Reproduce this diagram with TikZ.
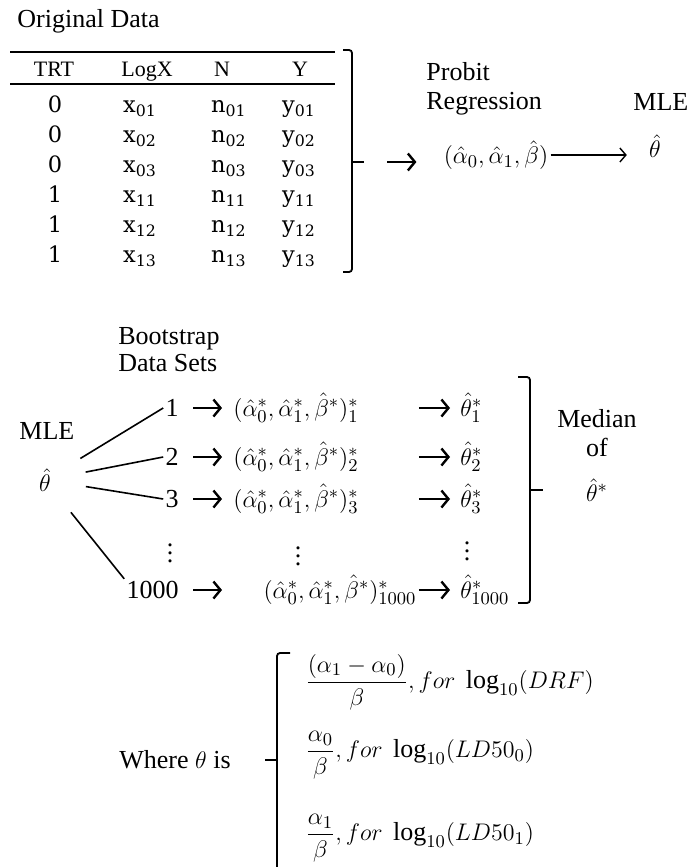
\documentclass[tikz,border=0pt]{standalone}
\usepackage{amsmath}
\usepackage{fontspec}
\setmainfont{Liberation Serif}
\newfontfamily\datafont{DejaVu Serif}
\usetikzlibrary{arrows.meta}

\tikzset{
  lbl/.style={font=\fontsize{13}{14.5}\selectfont, inner sep=1pt},
  tab/.style={font=\fontsize{11}{13}\selectfont, inner sep=1pt},
  dat/.style={font=\datafont\fontsize{11.25}{13}\selectfont, inner sep=1pt},
  arr/.style={line width=1.2pt, -{Straight Barb[length=3.5pt,width=8.5pt]}},
  larr/.style={line width=0.7pt, -{Straight Barb[length=3pt,width=7pt]}},
  brk/.style={line width=0.9pt, rounded corners=1.5pt},
  fan/.style={line width=0.8pt},
}

\begin{document}
\begin{tikzpicture}[x=0.5pt,y=-0.5pt]
\useasboundingbox (0,0) rectangle (687,867);

% original data table
\node[lbl,anchor=base west] (orig) at (15,27) {Original Data};
\draw[line width=1pt] (10,52) -- (335,52);
\draw[line width=1pt] (10,84) -- (335,84);
\foreach \cx/\hd in {54/TRT,147/LogX,222/N,300/Y}{\node[tab,anchor=base] (hd\hd) at (\cx,76) {\hd};}
\foreach \r/\trt/\ix in {0/0/01,1/0/02,2/0/03,3/1/11,4/1/12,5/1/13}{
  \node[dat,anchor=base] (trt\ix) at (55,112+30*\r) {\trt};
  \node[dat,anchor=base] (x\ix) at (140,112+30*\r) {x\textsubscript{\ix}};
  \node[dat,anchor=base] (n\ix) at (229,112+30*\r) {n\textsubscript{\ix}};
  \node[dat,anchor=base] (y\ix) at (299,112+30*\r) {y\textsubscript{\ix}};
}
\draw[brk] (343,50) -- (352,50) -- (352,272) -- (343,272);
\coordinate (brk1) at (352,162);
\draw[brk] (brk1) -- ++(12,0);

% probit fit
\node[lbl,anchor=north west,align=left,inner sep=0] (probit) at (426,62) {Probit\\Regression};
\node[lbl,anchor=base west] (mle) at (631,110) {MLE};
\node[lbl] (tup) at (496,155) {$(\hat{\alpha}_0,\hat{\alpha}_1,\hat{\beta})$};
\node[lbl] (mth) at (655,146) {$\hat{\theta}$};
\draw[arr,shorten <=17.5pt,shorten >=12.5pt] (brk1) -- (brk1 -| tup.west);
\draw[larr,shorten >=10pt] (tup.east) -- (tup.east -| mth.west);

% bootstrap
\node[lbl,anchor=north west,align=left,inner sep=0,font=\fontsize{13}{13.5}\selectfont] (boot) at (118,327) {Bootstrap\\Data Sets};
\node[lbl,anchor=base west] (mle2) at (17,439) {MLE};
\node[lbl,circle,minimum size=41pt,inner sep=0] (th) at (45,480) {$\hat{\theta}$};
\foreach \i/\yy/\al/\an in {1/408/left/west,2/457/left/west,3/499/left/west,1000/590/right/north west}{
  \node[lbl,anchor=east] (n\i) at (181,\yy) {\i};
  \node[lbl,anchor=west,text width=91.5pt,align=\al] (t\i) at (231,\yy) {$(\hat{\alpha}_0^*,\hat{\alpha}_1^*,\hat{\beta}^*)_{\i}^*$};
  \node[lbl,anchor=west] (s\i) at (458,\yy) {$\hat{\theta}_{\i}^*$};
  \draw[fan] (th) -- (n\i.\an);
  \draw[arr,shorten <=6pt,shorten >=4.5pt] (n\i) -- (t\i);
  \draw[arr,shorten >=4pt] (t\i) -- (s\i);
}
\node[lbl] (vd1) at (170,547) {$\vdots$};
\node[lbl] (vd2) at (298,550) {$\vdots$};
\node[lbl] (vd3) at (467,545) {$\vdots$};
\draw[brk] (518,377) -- (530,377) -- (530,603) -- (518,603);
\coordinate (brk2) at (530,490);
\draw[brk] (brk2) -- ++(13,0);
\node[lbl,anchor=north,align=center,inner sep=0] (med) at (597,409) {Median\\of\\[8pt]$\hat{\theta}^*$};

% definition of theta
\node[lbl,anchor=west] (where) at (117,760) {Where $\theta$ is};
\draw[brk] (290,653) -- (277,653) -- (277,867);
\coordinate (brk3) at (277,760);
\draw[brk] (brk3) -- ++(-12,0);
\node[lbl,anchor=west] (f1) at (303,682) {$\dfrac{(\alpha_1-\alpha_0)}{\beta},for\ \log_{10}(DRF)$};
\node[lbl,anchor=west] (f2) at (303,755) {$\dfrac{\alpha_0}{\beta},for\ \log_{10}(LD50_0)$};
\node[lbl,anchor=west] (f3) at (303,838) {$\dfrac{\alpha_1}{\beta},for\ \log_{10}(LD50_1)$};
\end{tikzpicture}
\end{document}
